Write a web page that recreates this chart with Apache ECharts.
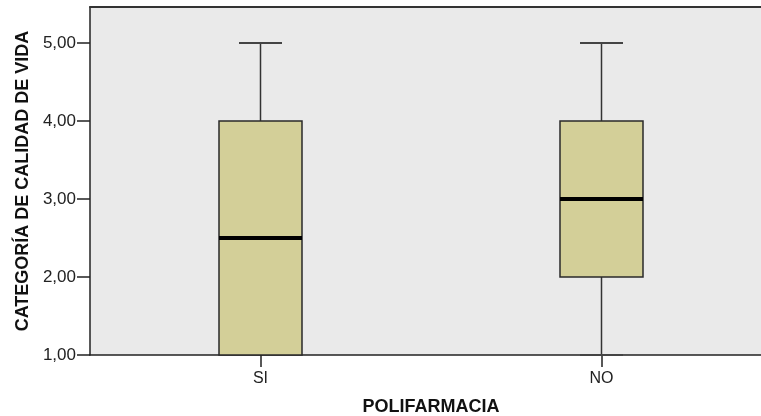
<!DOCTYPE html>
<html><head><meta charset="utf-8">
<script src="https://cdn.jsdelivr.net/npm/echarts@6/dist/echarts.min.js"></script>
<style>html,body{margin:0;padding:0;background:#fff}#c{width:761px;height:416px}</style>
</head><body><div id="c"></div>
<script>
var categories = ['SI', 'NO'];
var minVals = [1, 1];
var q1Vals = [1, 2];
var medianVals = [2.5, 3];
var q3Vals = [4, 4];
var maxVals = [5, 5];
var yTicks = [1, 2, 3, 4, 5];
var xPositions = [0, 1];

var data = categories.map(function (c, i) {
  return [xPositions[i], minVals[i], q1Vals[i], medianVals[i], q3Vals[i], maxVals[i]];
});

var chart = echarts.init(document.getElementById('c'));
var BOX_W = 83, CAP_W = 43;
var FONT = 'Liberation Sans';
chart.setOption({
  animation: false,
  grid: { left: 90, top: 7, right: 0, bottom: 61, show: true, backgroundColor: '#eaeaea', borderWidth: 0,
    containLabel: false, outerBoundsMode: 'none' },
  xAxis: [{
    type: 'value', min: -0.5, max: 1.468, interval: 0.5,
    name: 'POLIFARMACIA', nameLocation: 'middle', nameGap: 43,
    nameTextStyle: { fontFamily: FONT, fontWeight: 'bold', fontSize: 18, color: '#111', padding: [0, 0, 0, 11] },
    axisLine: { show: true, onZero: false, lineStyle: { color: '#222', width: 1.5 } },
    axisTick: { show: true, length: 12, customValues: xPositions, lineStyle: { color: '#222', width: 1.5 } },
    axisLabel: { fontFamily: FONT, fontSize: 16, color: '#222', margin: 16, customValues: xPositions,
      formatter: function (v) { var i = xPositions.indexOf(v); return i >= 0 ? categories[i] : ''; } },
    splitLine: { show: false }
  }, {
    type: 'value', position: 'top', min: -0.5, max: 1.468,
    axisLine: { show: true, onZero: false, lineStyle: { color: '#333', width: 2 } },
    axisTick: { show: false }, axisLabel: { show: false }, splitLine: { show: false }
  }],
  yAxis: {
    type: 'value', min: 1, max: 5.46, interval: 1,
    name: 'CATEGORÍA DE CALIDAD DE VIDA', nameLocation: 'middle', nameGap: 55, nameRotate: 90,
    nameTextStyle: { fontFamily: FONT, fontWeight: 'bold', fontSize: 18, color: '#111' },
    axisLine: { show: true, onZero: false, lineStyle: { color: '#222', width: 1.5 } },
    axisTick: { show: true, length: 13, customValues: yTicks, lineStyle: { color: '#222', width: 1.5 } },
    axisLabel: { fontFamily: FONT, fontSize: 17, color: '#222', margin: 14, customValues: yTicks,
      formatter: function (v) { return v.toFixed(2).replace('.', ','); } },
    splitLine: { show: false }
  },
  series: [{
    type: 'custom',
    xAxisIndex: 0,
    data: data,
    renderItem: function (params, api) {
      var x = api.value(0);
      var pMin = api.coord([x, api.value(1)]);
      var pQ1 = api.coord([x, api.value(2)]);
      var pMed = api.coord([x, api.value(3)]);
      var pQ3 = api.coord([x, api.value(4)]);
      var pMax = api.coord([x, api.value(5)]);
      var cx = Math.round(pMin[0]) + 0.5;
      var line = { stroke: '#333', lineWidth: 1.5 };
      var cap = { stroke: '#444', lineWidth: 2 };
      var children = [];
      if (pQ1[1] !== pMin[1]) {
        children.push({ type: 'line', shape: { x1: cx, y1: pQ1[1], x2: cx, y2: pMin[1] }, style: line });
        children.push({ type: 'line', shape: { x1: cx - CAP_W / 2, y1: pMin[1], x2: cx + CAP_W / 2, y2: pMin[1] }, style: cap });
      }
      children.push({ type: 'line', shape: { x1: cx, y1: pQ3[1], x2: cx, y2: pMax[1] }, style: line });
      children.push({ type: 'line', shape: { x1: cx - CAP_W / 2, y1: pMax[1], x2: cx + CAP_W / 2, y2: pMax[1] }, style: cap });
      children.push({ type: 'rect', shape: { x: cx - BOX_W / 2, y: pQ3[1], width: BOX_W, height: pQ1[1] - pQ3[1] },
        style: { fill: '#d3cf98', stroke: '#2a2a2a', lineWidth: 1.5 } });
      children.push({ type: 'line', shape: { x1: cx - BOX_W / 2, y1: pMed[1], x2: cx + BOX_W / 2, y2: pMed[1] }, style: { stroke: '#000', lineWidth: 4 } });
      return { type: 'group', children: children };
    }
  }]
});
</script></body></html>
